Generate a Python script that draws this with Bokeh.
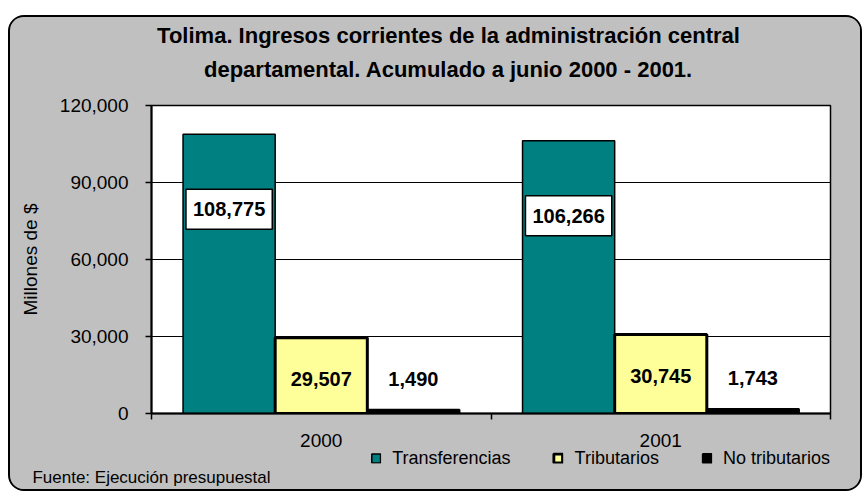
import numpy as np
from bokeh.plotting import figure
from bokeh.layouts import column
from bokeh.models import (ColumnDataSource, Range1d, FixedTicker, NumeralTickFormatter,
                          Label, Legend, LegendItem)
from bokeh.embed import file_html
from bokeh.resources import INLINE

# ---------------- data ----------------
years = ["2000", "2001"]
series_names = ["Transferencias", "Tributarios", "No tributarios"]
transferencias = [108775, 106266]
tributarios = [29507, 30745]
no_tributarios = [1490, 1743]
y_ticks = [0, 30000, 60000, 90000, 120000]
title_lines = ["Tolima. Ingresos corrientes de la administración central",
               "departamental. Acumulado a junio 2000 - 2001."]
y_label = "Millones de $"
source_note = "Fuente: Ejecución presupuestal"

# ---------------- styles ----------------
FONT = "Liberation Sans"
GRAY = "#C0C0C0"
colors = ["#008080", "#FFFF99", "#000000"]
line_widths = [1.5, 3, 2]
BAR_W = 0.2714
offsets = [-BAR_W, 0.0, BAR_W]
label_y_offsets = [-75, -41, 31]
W = 850
H_HEAD, H_MAIN, H_FOOT = 75, 357, 40

centers = np.arange(len(years)) + 0.5

# ---------------- header (title) ----------------
head = figure(width=W, height=H_HEAD, x_range=Range1d(0, 1), y_range=Range1d(0, 1),
              output_backend="svg", toolbar_location=None, title=None,
              x_axis_location=None, y_axis_location=None,
              min_border=0, border_fill_color=GRAY, background_fill_color=GRAY)
head.outline_line_color = None
head.grid.visible = False
for line, yy in zip(title_lines, [57, 23]):
    head.add_layout(Label(x=297, y=yy, x_units="screen", y_units="screen",
                          text=line, text_align="center", text_baseline="middle",
                          text_font=FONT, text_font_style="bold",
                          text_font_size="22px", text_color="black"))

# ---------------- main chart ----------------
p = figure(width=W, height=H_MAIN, title=None,
           x_range=Range1d(0, len(years)), y_range=Range1d(0, 120000),
           output_backend="svg", toolbar_location=None,
           min_border_left=141, min_border_right=30,
           min_border_top=13, min_border_bottom=36,
           border_fill_color=GRAY, background_fill_color="white")
p.outline_line_color = "black"
p.outline_line_width = 1.5

sources = []
values_list = [transferencias, tributarios, no_tributarios]
for name, vals, col, lw, off, yo in zip(series_names, values_list, colors,
                                         line_widths, offsets, label_y_offsets):
    xs = centers + off
    src = ColumnDataSource(dict(x=xs, top=vals))
    sources.append(src)
    p.vbar(x="x", top="top", bottom=0, width=BAR_W, source=src,
           fill_color=col, line_color="black", line_width=lw)
    for xv, v in zip(xs, vals):
        kw = {}
        if name == "Transferencias":
            kw = dict(background_fill_color="white", border_line_color="black",
                      border_line_width=1.5,
                      padding=dict(left=7, right=7, top=13, bottom=13))
        p.add_layout(Label(x=float(xv), y=v, text=f"{v:,}", y_offset=yo,
                           text_align="center", text_baseline="middle",
                           text_font=FONT, text_font_style="bold",
                           text_font_size="20px", text_color="black", **kw))

yax = p.yaxis[0]
yax.ticker = FixedTicker(ticks=y_ticks)
yax.formatter = NumeralTickFormatter(format="0,0")
yax.axis_line_color = "black"
yax.axis_line_width = 2
yax.major_tick_in = 0
yax.major_tick_out = 6
yax.major_tick_line_width = 1.5
yax.minor_tick_out = 0
yax.minor_tick_in = 0
yax.major_label_standoff = 17
yax.major_label_text_font = FONT
yax.major_label_text_font_size = "19px"
yax.major_label_text_color = "black"
yax.axis_label = y_label
yax.axis_label_standoff = 16
yax.axis_label_text_font = FONT
yax.axis_label_text_font_size = "19px"
yax.axis_label_text_font_style = "normal"
yax.axis_label_text_color = "black"

xax = p.xaxis[0]
xax.ticker = FixedTicker(ticks=list(centers),
                         minor_ticks=list(range(len(years) + 1)))
xax.major_label_overrides = {float(c): y for c, y in zip(centers, years)}
xax.axis_line_color = "black"
xax.axis_line_width = 2
xax.major_tick_in = 0
xax.major_tick_out = 0
xax.minor_tick_in = 0
xax.minor_tick_out = 6
xax.minor_tick_line_width = 1.5
xax.minor_tick_line_color = "black"
xax.major_label_standoff = 14
xax.major_label_text_font = FONT
xax.major_label_text_font_size = "19px"
xax.major_label_text_color = "black"

p.xgrid.visible = False
p.ygrid.ticker = FixedTicker(ticks=y_ticks)
p.ygrid.grid_line_color = "black"
p.ygrid.grid_line_width = 1

# ---------------- footer (legend + source note) ----------------
foot = figure(width=W, height=H_FOOT, x_range=Range1d(0, 1), y_range=Range1d(0, 1),
              output_backend="svg", toolbar_location=None, title=None,
              y_axis_location=None, min_border=0,
              border_fill_color=GRAY, background_fill_color=GRAY)
foot.outline_line_color = None
foot.grid.visible = False
fax = foot.xaxis[0]
fax.ticker = FixedTicker(ticks=[0])
fax.major_label_overrides = {0: source_note}
fax.axis_line_color = None
fax.major_tick_in = 0
fax.major_tick_out = 0
fax.minor_tick_in = 0
fax.minor_tick_out = 0
fax.major_label_standoff = 0
fax.major_label_text_font = FONT
fax.major_label_text_font_size = "17px"
fax.major_label_text_color = "black"

foot_renderers = []
for src, col, lw in zip(sources, colors, line_widths):
    r = foot.vbar(x="x", top="top", bottom=0, width=BAR_W, source=src,
                  fill_color=col, line_color="black", line_width=lw)
    r.visible = False
    foot_renderers.append(r)

legend = Legend(items=[LegendItem(label=n, renderers=[r])
                       for n, r in zip(series_names, foot_renderers)],
                orientation="horizontal", location="center_right",
                background_fill_alpha=0, border_line_alpha=0,
                inactive_fill_alpha=0,
                padding=0, margin=0, glyph_width=11, glyph_height=11,
                label_standoff=11, label_height=18, spacing=42,
                label_text_font=FONT, label_text_font_size="18px",
                label_text_color="black")
foot.add_layout(legend, "center")

layout = column(head, p, foot, spacing=0,
                styles={"margin-left": "8px", "margin-top": "15px",
                        "border": "2px solid black", "border-radius": "16px",
                        "overflow": "hidden", "background-color": GRAY})

open("out.html", "w").write(file_html(layout, INLINE))
